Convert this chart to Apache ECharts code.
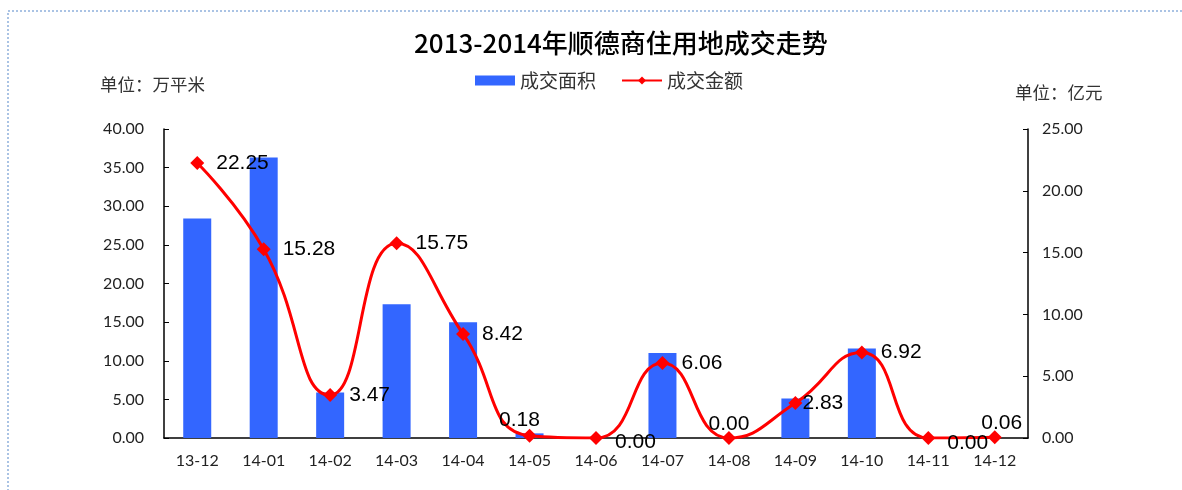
<!DOCTYPE html>
<html><head><meta charset="utf-8">
<script src="https://cdn.jsdelivr.net/npm/echarts@6/dist/echarts.min.js"></script>
<style>html,body{margin:0;padding:0;background:#fff}#c{width:1182px;height:490px}</style>
</head><body><div id="c"></div>
<script>
const categories = ['13-12','14-01','14-02','14-03','14-04','14-05','14-06','14-07','14-08','14-09','14-10','14-11','14-12'];
const areaValues = [28.4, 36.3, 5.9, 17.3, 15.0, 0.6, 0, 11.0, 0, 5.1, 11.6, 0, 0];
const amountValues = [22.25, 15.28, 3.47, 15.75, 8.42, 0.18, 0.00, 6.06, 0.00, 2.83, 6.92, 0.00, 0.06];
const leftTicks = {min: 0, max: 40, interval: 5};
const rightTicks = {min: 0, max: 25, interval: 5};

// label placement per point (styling, not data)
const labelStyle = {
  5: {position: 'top', offset: [-10, 14]},
  6: {position: 'right', offset: [0, 4]},
  8: {position: 'top', offset: [0, 16]},
  9: {position: 'right', distance: 0},
  11: {position: 'right', offset: [0, 5]},
  12: {position: 'top', offset: [7, 15]}
};
const lineData = amountValues.map((v, i) => labelStyle[i] ? {value: v, label: labelStyle[i]} : v);

const chart = echarts.init(document.getElementById('c'));
const tickFont = {fontFamily: 'Lato, "Noto Sans CJK SC", sans-serif', fontSize: 16, color: '#222'};
chart.setOption({
  animation: false,
  title: {
    text: '2013-2014年顺德商住用地成交走势',
    left: 409, top: 25,
    textStyle: {fontFamily: '"Noto Sans CJK SC", sans-serif', fontSize: 26, fontWeight: 500, color: '#000'}
  },
  legend: {
    left: 470, top: 66, itemGap: 25, itemWidth: 40, itemHeight: 10,
    textStyle: {fontFamily: '"Noto Sans CJK SC", sans-serif', fontSize: 19, color: '#333'},
    data: [{name: '成交面积', icon: 'rect'}, {name: '成交金额'}]
  },
  graphic: [
    {type: 'rect', shape: {x: 8, y: 11, width: 1200, height: 500},
     style: {fill: 'none', stroke: '#8fb0dc', lineWidth: 1.5, lineDash: [2, 2]}},
    {type: 'text', left: 100, top: 76, style: {text: '单位：万平米', font: '17.5px "Noto Sans CJK SC"', fill: '#333'}},
    {type: 'text', left: 1015, top: 84, style: {text: '单位：亿元', font: '17.5px "Noto Sans CJK SC"', fill: '#333'}}
  ],
  grid: {left: 164, right: 154, top: 129, bottom: 52, containLabel: false},
  xAxis: {
    type: 'category', data: categories, boundaryGap: true,
    axisLine: {lineStyle: {color: '#000', width: 1.5}},
    axisTick: {inside: true, length: 5, lineStyle: {color: '#000'}},
    axisLabel: Object.assign({margin: 15}, tickFont)
  },
  yAxis: [
    {type: 'value', min: leftTicks.min, max: leftTicks.max, interval: leftTicks.interval,
     splitLine: {show: false},
     axisLine: {show: true, lineStyle: {color: '#000', width: 1.5}},
     axisTick: {show: true, inside: true, length: 5, lineStyle: {color: '#000'}},
     axisLabel: Object.assign({margin: 20, formatter: v => v.toFixed(2)}, tickFont)},
    {type: 'value', min: rightTicks.min, max: rightTicks.max, interval: rightTicks.interval,
     splitLine: {show: false},
     axisLine: {show: true, lineStyle: {color: '#000', width: 1.5}},
     axisTick: {show: true, inside: true, length: 5, lineStyle: {color: '#000'}},
     axisLabel: Object.assign({margin: 14, formatter: v => v.toFixed(2)}, tickFont)}
  ],
  series: [
    {name: '成交面积', type: 'bar', yAxisIndex: 0, data: areaValues, barWidth: 28,
     itemStyle: {color: '#3366ff'}},
    {name: '成交金额', type: 'line', yAxisIndex: 1, data: lineData, smooth: 0.5,
     symbol: 'diamond', symbolSize: 14,
     lineStyle: {color: '#ff0000', width: 3},
     itemStyle: {color: '#ff0000'},
     label: {show: true, position: 'right', distance: 12, color: '#000', fontSize: 21,
             fontFamily: '"Liberation Sans", Arial, sans-serif',
             formatter: p => Number(p.value).toFixed(2)}}
  ]
});
</script></body></html>
